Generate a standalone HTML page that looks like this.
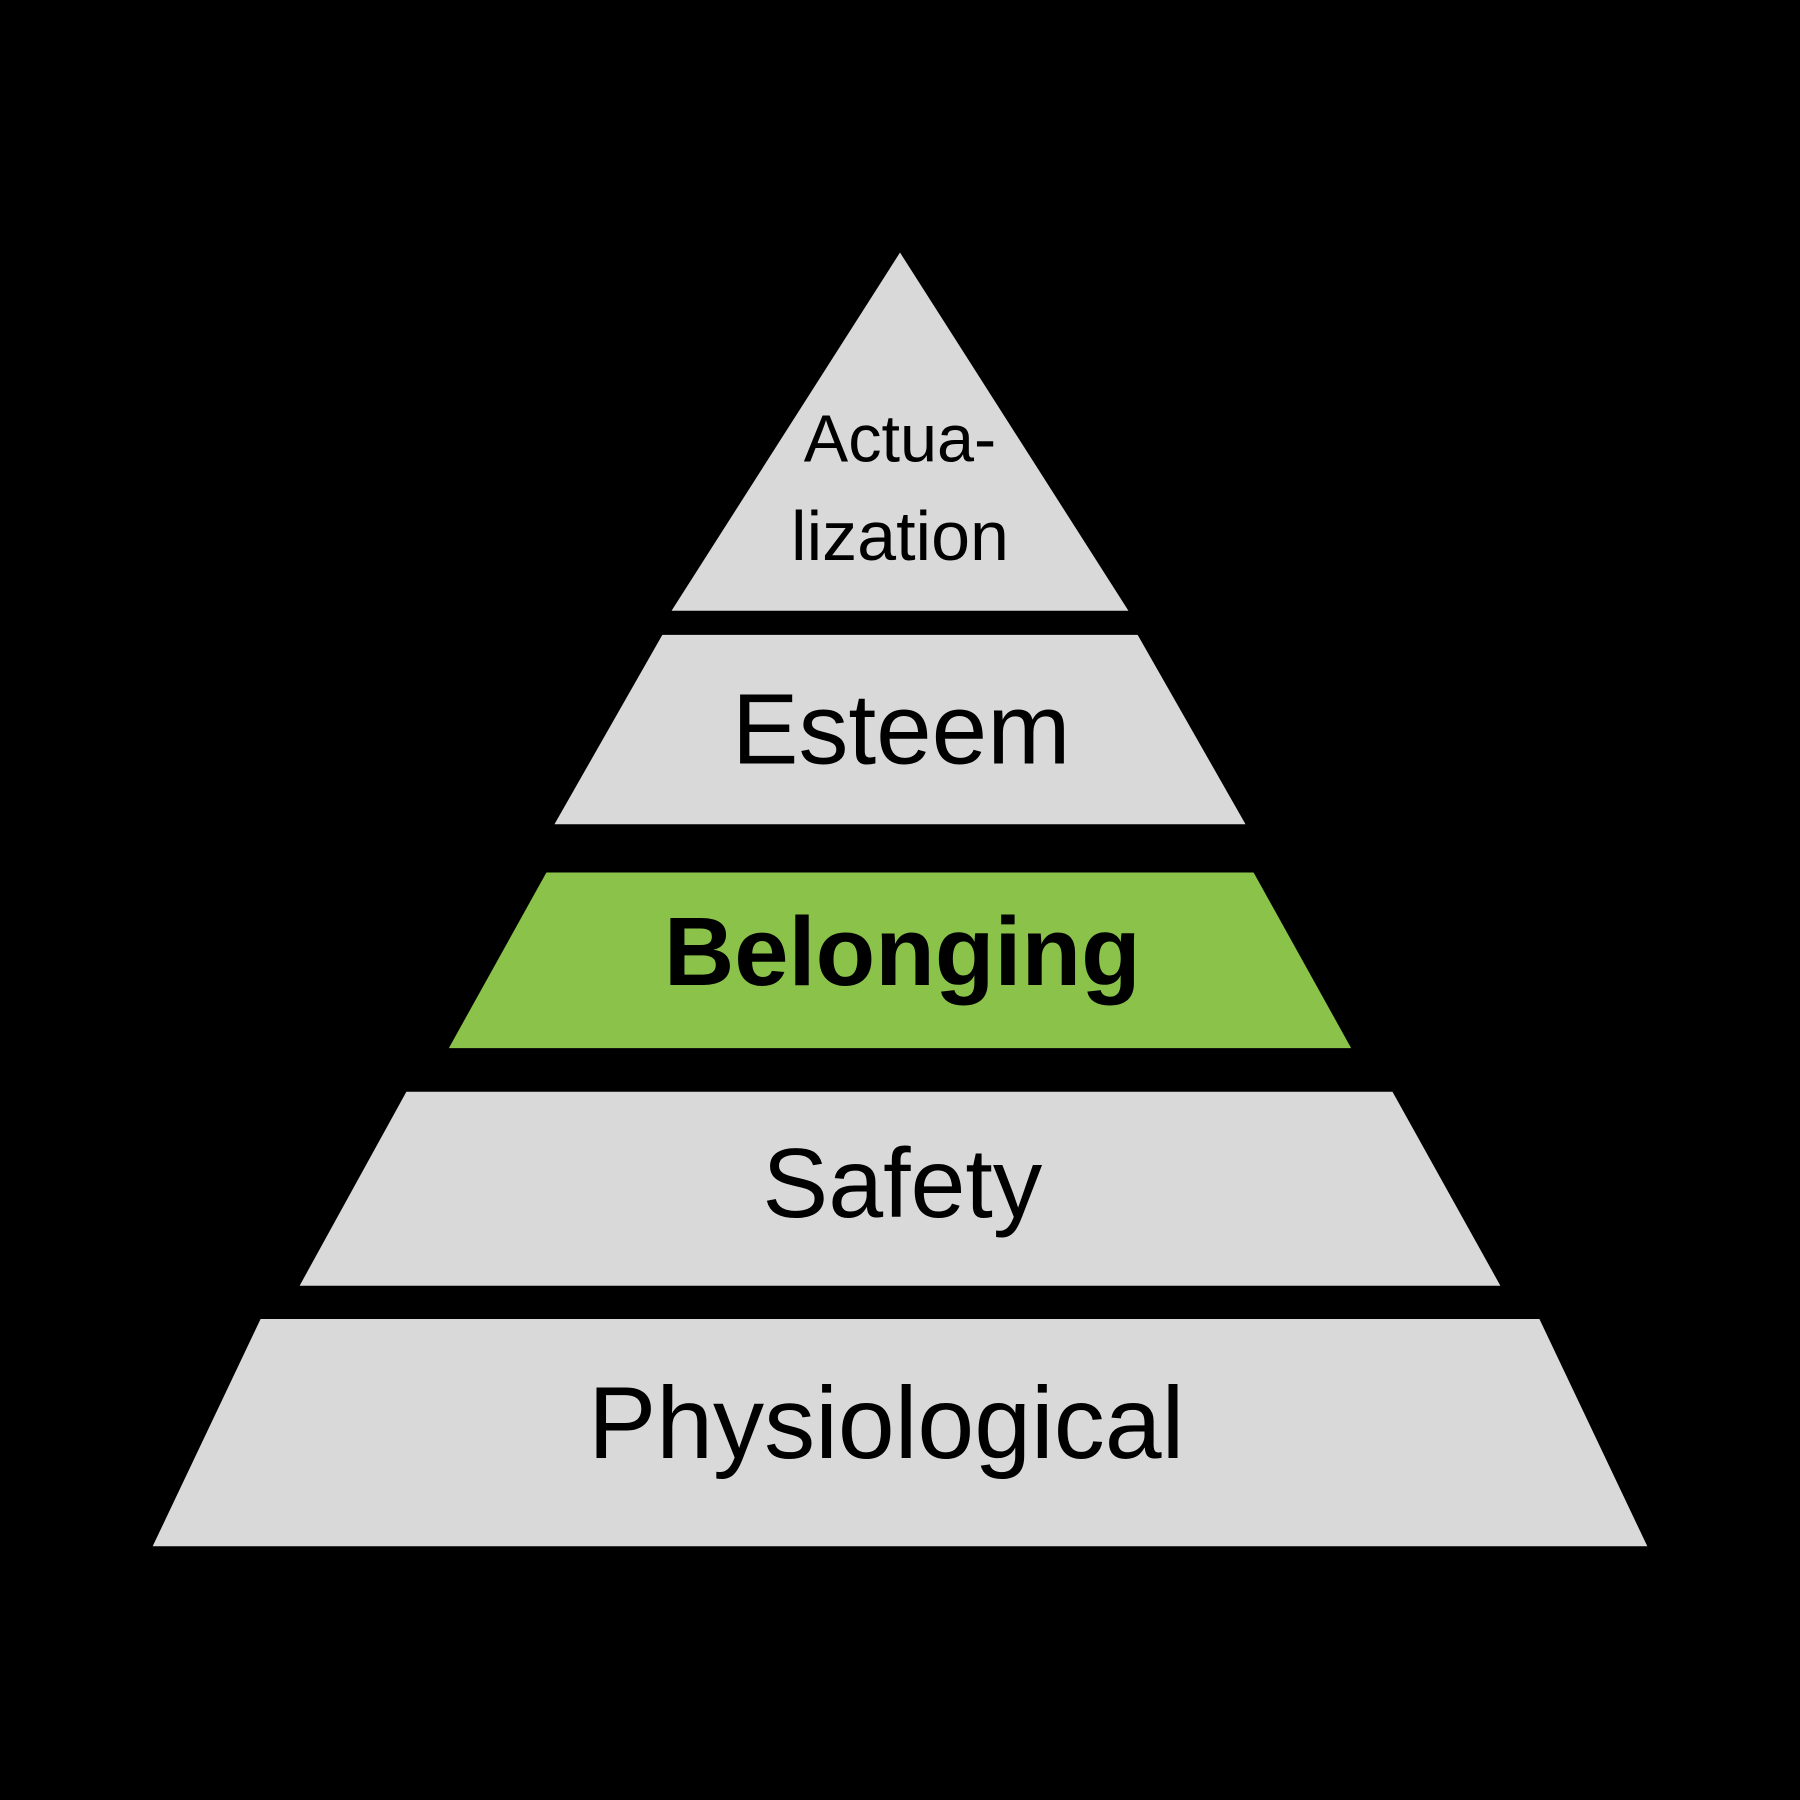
<!DOCTYPE html>
<html><head><meta charset="utf-8"><style>
html,body{margin:0;padding:0;background:#000;}
svg{display:block;}
text{font-family:"Liberation Sans",sans-serif;fill:#000;text-anchor:middle;}
</style></head><body>
<svg width="1800" height="1800" viewBox="0 0 1568 1568" xmlns="http://www.w3.org/2000/svg">
<rect width="1568" height="1568" fill="#000"/>
<polygon points="784,220 983,532 585,532" fill="#d9d9d9"/>
<polygon points="577,553 991,553 1085,718 483,718" fill="#d9d9d9"/>
<polygon points="473,752 1095,752 1189,921 379,921" fill="#000"/>
<polygon points="476,760 1092,760 1177,913 391,913" fill="#8bc34a"/>
<polygon points="354,951 1213,951 1307,1120 261,1120" fill="#d9d9d9"/>
<polygon points="227,1149 1341,1149 1435,1347 133,1347" fill="#d9d9d9"/>
<text x="784" y="402" font-size="58">Actua-</text>
<text x="784" y="488" font-size="61">lization</text>
<text x="785" y="665" font-size="87">Esteem</text>
<text x="786" y="858" font-size="85" font-weight="bold">Belonging</text>
<text x="786" y="1060" font-size="86">Safety</text>
<text x="772" y="1270" font-size="89">Physiological</text>
</svg>
</body></html>
